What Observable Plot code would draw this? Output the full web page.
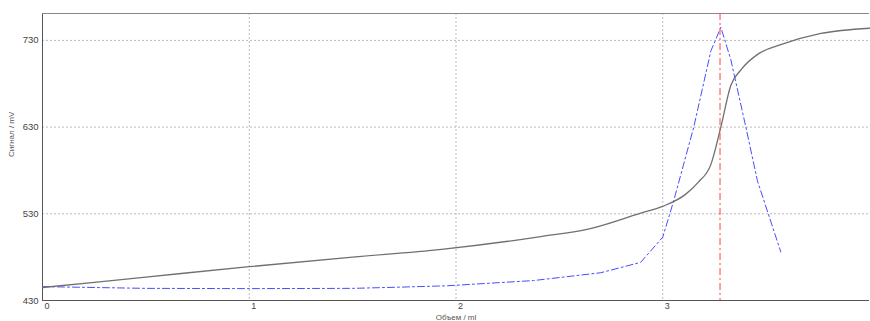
<!DOCTYPE html>
<html><head><meta charset="utf-8">
<script src="https://cdn.jsdelivr.net/npm/d3@7"></script>
<script src="https://cdn.jsdelivr.net/npm/@observablehq/plot@0.6"></script>
<style>body{margin:0;background:#fff;} svg{display:block;}</style>
</head><body><div id="chart"></div>
<script>
const signalX = [0, 0.5, 1, 1.5, 1.93, 2.41, 2.65, 2.89, 3.0, 3.11, 3.17, 3.233, 3.281, 3.329, 3.378, 3.466, 3.571, 3.765, 4.0];
const signalY = [445, 457, 469, 480, 489, 503.7, 513, 530.5, 538.6, 552.4, 566, 587, 630, 678, 696, 715, 725, 738, 744];
const derivX = [0, 0.5, 1, 1.5, 1.73, 1.96, 2.375, 2.7, 2.893, 3.0, 3.053, 3.15, 3.233, 3.281, 3.329, 3.402, 3.458, 3.571];
const derivY = [446, 444, 443.7, 444, 445.4, 447, 453, 462, 474, 503, 545, 630, 718, 745, 708, 630, 568, 486];
const endpoint = [3.277];
const xTicks = [0, 1, 2, 3];
const yTicks = [430, 530, 630, 730];
const xLabel = "Объем / ml";
const yLabel = "Сигнал / mV";

const signal = signalX.map((x, i) => ({x, y: signalY[i]}));
const deriv = derivX.map((x, i) => ({x, y: derivY[i]}));

const chart = Plot.plot({
  width: 870, height: 321,
  marginLeft: 42, marginRight: 1, marginTop: 13, marginBottom: 21,
  style: {fontFamily: "Liberation Sans, Arial, sans-serif", fontSize: "9px", color: "#444", background: "#fff"},
  x: {domain: [0, 4], label: null},
  y: {domain: [430, 761], label: null},
  marks: [
    Plot.gridX(xTicks.filter(d => d > 0), {stroke: "#bbb", strokeOpacity: 1, strokeDasharray: "2,2"}),
    Plot.gridY(yTicks.filter(d => d > 430), {stroke: "#bbb", strokeOpacity: 1, strokeDasharray: "2,2"}),
    Plot.ruleX([0], {stroke: "#555", strokeWidth: 1}),
    Plot.ruleY([430], {stroke: "#555", strokeWidth: 1}),
    Plot.ruleY([761], {stroke: "#888", strokeWidth: 1}),
    Plot.axisX({ticks: xTicks, tickFormat: d => String(d), tickSize: 0, textAnchor: "start", dx: 2, tickPadding: 2, fontSize: 9, fill: "#444", label: null}),
    Plot.axisY({ticks: yTicks, tickFormat: d => String(d), tickSize: 0, tickPadding: 4, fontSize: 9.5, fill: "#444", label: null}),
    Plot.line(deriv, {x: "x", y: "y", stroke: "#4b4bff", strokeWidth: 1, strokeDasharray: "7,3,2,3"}),
    Plot.line(signal, {x: "x", y: "y", stroke: "#707070", strokeWidth: 1.3, curve: "monotone-x"}),
    Plot.ruleX(endpoint, {stroke: "#ff4040", strokeWidth: 1, strokeDasharray: "7,3,2,3"}),
    Plot.text([yLabel], {frameAnchor: "left", dx: -31, rotate: -90, fontSize: 8, fill: "#555"}),
    Plot.text([xLabel], {frameAnchor: "bottom", dy: 19.5, fontSize: 8, fill: "#555"})
  ]
});
document.getElementById("chart").append(chart);
</script></body></html>
